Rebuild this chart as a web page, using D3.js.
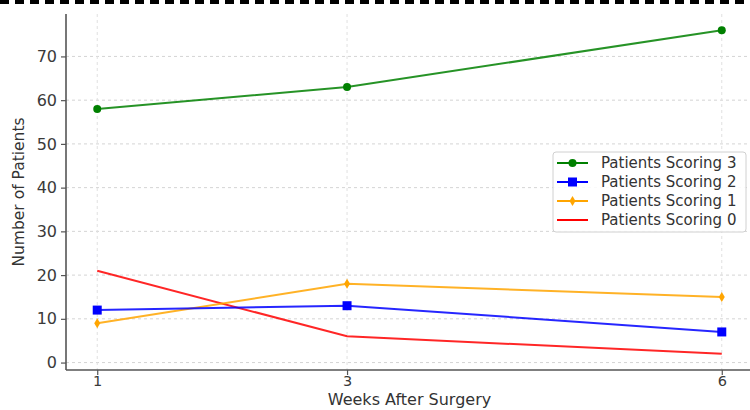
<!DOCTYPE html>
<html>
<head>
<meta charset="utf-8">
<script src="https://cdn.jsdelivr.net/npm/d3@7"></script>
<style>
body{margin:0;background:#fff;}
text{font-family:"DejaVu Sans",sans-serif;}
</style>
</head>
<body>
<div id="container"></div>
<script>
let w = 750;
let h = 410;

// DATA
let weeks = [1, 3, 6];
let scoring3 = [58, 63, 76];
let scoring2 = [12, 13, 7];
let scoring1 = [9, 18, 15];
let scoring0 = [21, 6, 2];
let yTicks = [0, 10, 20, 30, 40, 50, 60, 70];
let seriesNames = ["Patients Scoring 3", "Patients Scoring 2", "Patients Scoring 1", "Patients Scoring 0"];

let series = [
  {name: seriesNames[0], values: scoring3, color: "#008000", marker: "circle"},
  {name: seriesNames[1], values: scoring2, color: "#0000ff", marker: "square"},
  {name: seriesNames[2], values: scoring1, color: "#ffa500", marker: "diamond"},
  {name: seriesNames[3], values: scoring0, color: "#ff0000", marker: "none"}
];

let viz = d3.select("#container").append("svg")
  .attr("width", w)
  .attr("height", h);

// dashed border at top
viz.append("line")
  .attr("x1", 0).attr("x2", w)
  .attr("y1", 2).attr("y2", 2)
  .attr("stroke", "#000")
  .attr("stroke-width", 4)
  .attr("stroke-dasharray", "9,6");

// SCALES
let plotLeft = 66, plotRight = 753, plotTop = 14, plotBottom = 370;
let xScale = d3.scaleLinear().domain([0.75, 6.25]).range([plotLeft, plotRight]);
let yScale = d3.scaleLinear().domain([-1.7, 79.7]).range([plotBottom, plotTop]);

// grid
viz.append("g").selectAll("line").data(yTicks).enter().append("line")
  .attr("x1", plotLeft).attr("x2", plotRight)
  .attr("y1", d => yScale(d)).attr("y2", d => yScale(d))
  .attr("stroke", "#d4d4d4").attr("stroke-width", 1)
  .attr("stroke-dasharray", "3,3");
viz.append("g").selectAll("line").data(weeks).enter().append("line")
  .attr("x1", d => xScale(d)).attr("x2", d => xScale(d))
  .attr("y1", plotTop).attr("y2", plotBottom)
  .attr("stroke", "#e0e0e0").attr("stroke-width", 1)
  .attr("stroke-dasharray", "3,3");

// AXES
let yAxis = d3.axisLeft(yScale).tickValues(yTicks).tickSize(5).tickPadding(4);
let xAxis = d3.axisBottom(xScale).tickValues(weeks).tickFormat(d3.format("d")).tickSize(5).tickPadding(1);

let yg = viz.append("g").attr("transform", "translate(" + plotLeft + ",0)").call(yAxis);
let xg = viz.append("g").attr("transform", "translate(0," + plotBottom + ")").call(xAxis);
[yg, xg].forEach(function(g){
  g.select(".domain").attr("stroke", "#555").attr("stroke-width", 1.6);
  g.selectAll(".tick line").attr("stroke", "#555").attr("stroke-width", 1.2);
  g.selectAll(".tick text").attr("fill", "#3a3a3a").style("font-size", "16px");
});
xg.selectAll(".tick text").style("font-size", "14.5px");
// spines without end ticks
yg.select(".domain").attr("d", "M0," + plotTop + "V" + plotBottom);
xg.select(".domain").attr("d", "M" + plotLeft + ",0H" + plotRight);

// axis labels
viz.append("text")
  .attr("x", (plotLeft + plotRight) / 2).attr("y", 405)
  .attr("text-anchor", "middle")
  .attr("fill", "#333").style("font-size", "16px")
  .text("Weeks After Surgery");
viz.append("text")
  .attr("transform", "translate(24," + ((plotTop + plotBottom) / 2) + ") rotate(-90)")
  .attr("text-anchor", "middle")
  .attr("fill", "#333").style("font-size", "15.5px")
  .text("Number of Patients");

// LINES
let lineMaker = d3.line()
  .x((d, i) => xScale(weeks[i]))
  .y(d => yScale(d));

function drawMarker(g, type, color, x, y){
  if(type == "circle"){
    g.append("circle").attr("cx", x).attr("cy", y).attr("r", 4).attr("fill", color);
  }else if(type == "square"){
    g.append("rect").attr("x", x - 4.5).attr("y", y - 4.5).attr("width", 9).attr("height", 9).attr("fill", color);
  }else if(type == "diamond"){
    g.append("path").attr("d", "M" + x + "," + (y - 5) + "L" + (x + 3) + "," + y + "L" + x + "," + (y + 5) + "L" + (x - 3) + "," + y + "Z").attr("fill", color);
  }
}

let lineG = viz.append("g");
series.slice().reverse().forEach(function(s){
  lineG.append("path")
    .attr("d", lineMaker(s.values))
    .attr("fill", "none")
    .attr("stroke", s.color)
    .attr("stroke-width", 2)
    .attr("stroke-opacity", 0.85);
  s.values.forEach(function(v, i){
    drawMarker(lineG, s.marker, s.color, xScale(weeks[i]), yScale(v));
  });
});

// LEGEND
let lg = viz.append("g").attr("transform", "translate(553,152)");
lg.append("rect").attr("width", 193).attr("height", 80).attr("rx", 3)
  .attr("fill", "#fff").attr("fill-opacity", 0.85)
  .attr("stroke", "#d0d0d0");
series.forEach(function(s, i){
  let y = 11 + i * 19;
  lg.append("line").attr("x1", 4).attr("x2", 35).attr("y1", y).attr("y2", y)
    .attr("stroke", s.color).attr("stroke-width", 2);
  drawMarker(lg, s.marker, s.color, 19.5, y);
  lg.append("text").attr("x", 48).attr("y", y + 5)
    .attr("fill", "#333").style("font-size", "15px")
    .text(s.name);
});
</script>
</body>
</html>
